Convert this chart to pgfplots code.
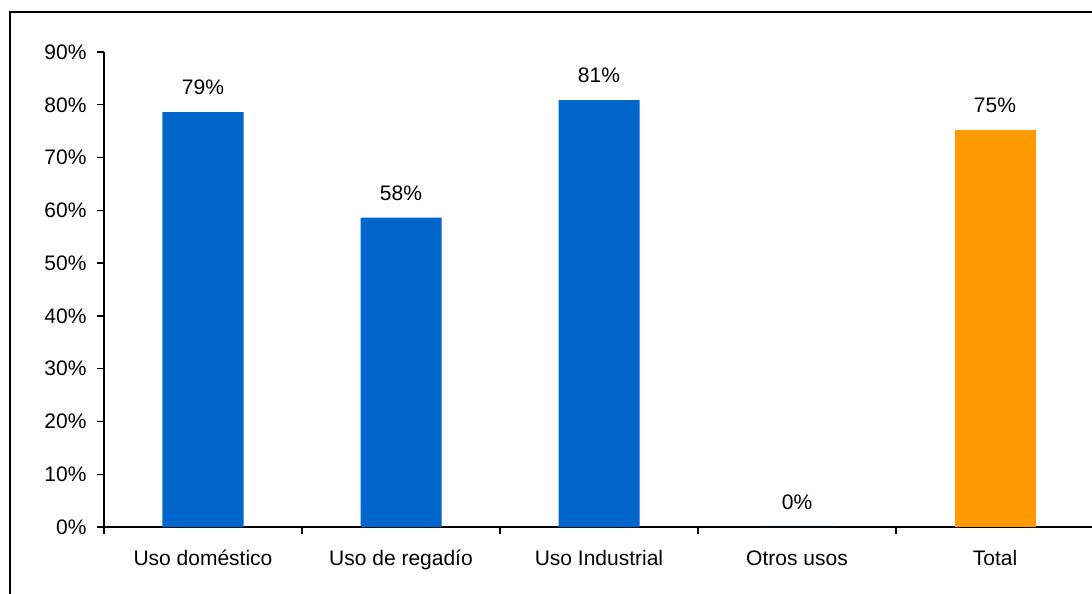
\documentclass[border=0pt]{standalone}
\usepackage{pgfplots}
\pgfplotsset{compat=1.18}
\usepackage{fontspec}
\setmainfont{Liberation Sans}
\definecolor{barblue}{HTML}{0066CC}
\definecolor{barorange}{HTML}{FF9900}
\newcommand\cf{\fontsize{21bp}{25bp}\selectfont}
\begin{document}
\begin{tikzpicture}
\useasboundingbox (-104bp,-67bp) rectangle (988bp,527bp);
\begin{axis}[
  at={(0,0)}, anchor=south west,
  scale only axis, width=990bp, height=475bp,
  xmin=-0.5, xmax=4.5, ymin=0, ymax=90,
  axis x line=bottom, axis y line=left,
  axis line style={-, line width=1.5bp, black},
  xtick={0,...,4},
  xticklabels={Uso doméstico, Uso de regadío, Uso Industrial, Otros usos, Total},
  major x tick style={draw=none},
  minor xtick={-0.5,0.5,1.5,2.5,3.5,4.5},
  minor tick length=7bp,
  ytick={0,10,...,90},
  yticklabel={\pgfmathprintnumber{\tick}\%},
  /pgf/number format/assume math mode=true,
  tick align=outside, major tick length=7bp,
  tick style={black, line width=1.3bp},
  every tick label/.append style={font=\cf},
  yticklabel style={xshift=-7bp},
  xticklabel style={yshift=-13bp},
  ybar, bar width=81bp, bar shift=0pt,
  nodes near coords={\pgfplotspointmeta\%},
  point meta=explicit symbolic,
  nodes near coords style={anchor=center, yshift=24.5bp, font=\cf, text=black},
  clip=false,
]
\addplot[fill=barblue, draw=none] table[x=x, y=y, meta=l] {
x y l
0 78.6 79
1 58.6 58
2 80.9 81
3 0 0
};
\addplot[fill=barorange, draw=none] table[x=x, y=y, meta=l] {
x y l
4 75.2 75
};
\end{axis}
\draw[line width=2bp, black] (-94.3bp,-200bp) -- (-94.3bp,514.8bp) -- (1200bp,514.8bp);
\end{tikzpicture}
\end{document}
